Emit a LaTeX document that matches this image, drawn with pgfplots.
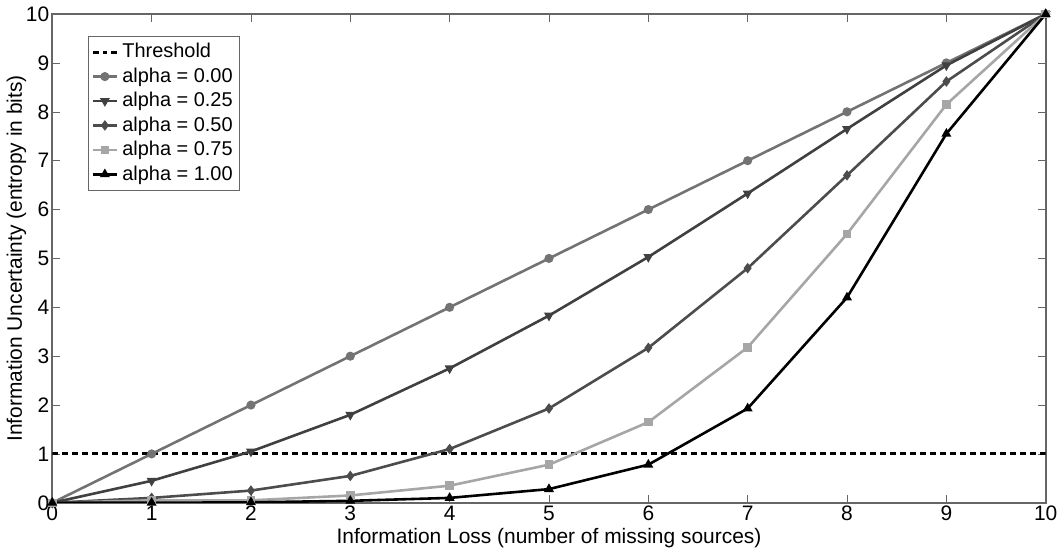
\documentclass[border=0pt]{standalone}
\usepackage{pgfplots}
\pgfplotsset{compat=1.18}
\usepackage{fontspec}
\setmainfont{Liberation Sans}
\begin{document}
\begin{tikzpicture}
\begin{axis}[
  scale only axis, width=498pt, height=245pt,
  xmin=0, xmax=10, ymin=0, ymax=10,
  xtick={0,...,10}, ytick={0,...,10},
  tick align=inside,
  major tick length=4pt,
  axis line style={gray!80!black, line width=0.8pt},
  tick style={gray!80!black},
  /pgf/number format/assume math mode=true,
  tick label style={font=\fontsize{10.5}{12}\selectfont},
  label style={font=\fontsize{10.5}{12}\selectfont},
  xlabel={Information Loss (number of missing sources)},
  ylabel={Information Uncertainty (entropy in bits)},
  xlabel style={yshift=3pt},
  ylabel style={yshift=-7pt},
  xticklabel style={yshift=2pt},
  yticklabel style={xshift=2pt},
  legend style={at={(0.036,0.955)}, anchor=north west, font=\fontsize{10}{11}\selectfont,
    draw=gray!80!black, inner sep=1.5pt, row sep=-0.5pt},
  legend cell align=left,
  legend image code/.code={\draw[#1] (0pt,0pt) -- (6pt,0pt) (12pt,0pt) -- (6pt,0pt); \path[#1,solid] plot coordinates {(6pt,0pt)};},
  every axis plot/.append style={line width=1.3pt, mark size=1.6pt},
]
\addplot[black, dash pattern=on 3pt off 2pt, line width=1.5pt, no marks] coordinates {(0,1) (10,1)};
\addlegendentry{Threshold}
\addplot[black!55, mark=*, mark options={fill=black!55}] coordinates {
(0,0) (1,1) (2,2) (3,3) (4,4) (5,5) (6,6) (7,7) (8,8) (9,9) (10,10)};
\addlegendentry{alpha = 0.00}
\addplot[black!75, mark=triangle*, mark options={rotate=180, fill=black!75}] coordinates {
(0,0) (1,0.45) (2,1.05) (3,1.8) (4,2.75) (5,3.83) (6,5.03) (7,6.33) (8,7.65) (9,8.95) (10,10)};
\addlegendentry{alpha = 0.25}
\addplot[black!70, mark=diamond*, mark options={fill=black!70}] coordinates {
(0,0) (1,0.1) (2,0.25) (3,0.55) (4,1.1) (5,1.93) (6,3.17) (7,4.8) (8,6.7) (9,8.62) (10,10)};
\addlegendentry{alpha = 0.50}
\addplot[black!35, mark=square*, mark options={fill=black!35}, mark size=1.5pt] coordinates {
(0,0) (1,0.05) (2,0.05) (3,0.15) (4,0.35) (5,0.78) (6,1.65) (7,3.18) (8,5.5) (9,8.15) (10,10)};
\addlegendentry{alpha = 0.75}
\addplot[black, mark=triangle*, mark options={fill=black}] coordinates {
(0,0) (1,0.0) (2,0.01) (3,0.04) (4,0.1) (5,0.28) (6,0.78) (7,1.93) (8,4.2) (9,7.55) (10,10)};
\addlegendentry{alpha = 1.00}
\end{axis}
\end{tikzpicture}
\end{document}
